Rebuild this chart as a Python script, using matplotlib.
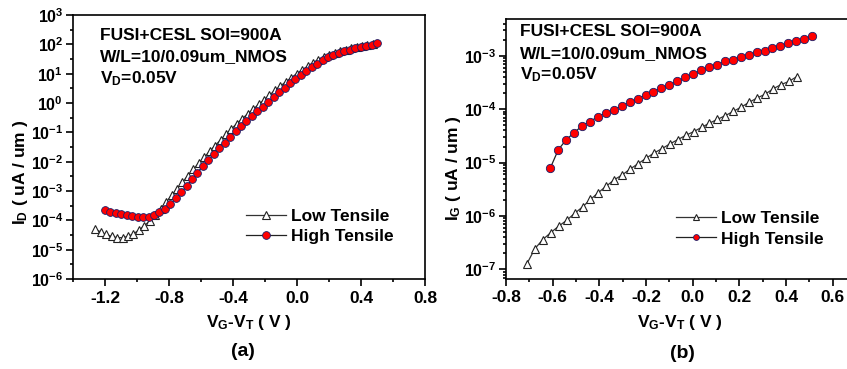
import numpy as np
import matplotlib.pyplot as plt
from matplotlib.ticker import FixedLocator, MultipleLocator, FuncFormatter, LogLocator, NullFormatter

plt.rcParams['font.family'] = 'Liberation Sans'
plt.rcParams['font.weight'] = 'bold'
plt.rcParams['axes.labelweight'] = 'bold'
plt.rcParams['mathtext.fontset'] = 'custom'
plt.rcParams['mathtext.rm'] = 'Liberation Sans:bold'
plt.rcParams['mathtext.bf'] = 'Liberation Sans:bold'
plt.rcParams['mathtext.it'] = 'Liberation Sans:bold'
plt.rcParams['axes.unicode_minus'] = False

# (a) drain current, log10(uA/um)
vg_a_high = [-1.200, -1.166, -1.132, -1.098, -1.064, -1.030, -0.996, -0.962, -0.928, -0.894,
             -0.860, -0.826, -0.792, -0.758, -0.724, -0.690, -0.656, -0.622, -0.588, -0.554,
             -0.520, -0.486, -0.452, -0.418, -0.384, -0.350, -0.316, -0.282, -0.248, -0.214,
             -0.180, -0.146, -0.112, -0.078, -0.044, -0.010, 0.024, 0.058, 0.092, 0.126,
             0.160, 0.194, 0.228, 0.262, 0.296, 0.330, 0.364, 0.398, 0.432, 0.466, 0.500]
logid_high = [-3.66, -3.71, -3.75, -3.79, -3.83, -3.86, -3.88, -3.89, -3.87, -3.82,
              -3.72, -3.60, -3.45, -3.25, -3.05, -2.83, -2.60, -2.37, -2.15, -1.94,
              -1.74, -1.54, -1.35, -1.15, -0.96, -0.78, -0.60, -0.44, -0.28, -0.12,
              0.04, 0.20, 0.36, 0.52, 0.67, 0.81, 0.95, 1.09, 1.22, 1.34,
              1.46, 1.56, 1.64, 1.71, 1.77, 1.82, 1.87, 1.91, 1.95, 1.99, 2.03]

vg_a_low = [-1.260, -1.226, -1.192, -1.158, -1.124, -1.090, -1.056, -1.022, -0.988, -0.954,
            -0.920, -0.886, -0.852, -0.818, -0.784, -0.750, -0.716, -0.682, -0.648, -0.614,
            -0.580, -0.546, -0.512, -0.478, -0.444, -0.410, -0.376, -0.342, -0.308, -0.274,
            -0.240, -0.206, -0.172, -0.138, -0.104, -0.070, -0.036, -0.002, 0.032, 0.066,
            0.100, 0.134, 0.168, 0.202, 0.236, 0.270, 0.304, 0.338, 0.372, 0.406, 0.440, 0.474]
logid_low = [-4.30, -4.40, -4.48, -4.55, -4.59, -4.59, -4.55, -4.46, -4.33, -4.18,
             -4.02, -3.83, -3.60, -3.38, -3.15, -2.93, -2.70, -2.48, -2.26, -2.05,
             -1.85, -1.65, -1.45, -1.26, -1.07, -0.88, -0.70, -0.53, -0.37, -0.21,
             -0.05, 0.11, 0.27, 0.43, 0.58, 0.72, 0.86, 1.00, 1.13, 1.25,
             1.37, 1.48, 1.57, 1.65, 1.72, 1.77, 1.82, 1.86, 1.90, 1.93, 1.97, 2.01]

# (b) gate current, log10(uA/um)
vg_b_high = [-0.610, -0.576, -0.542, -0.508, -0.474, -0.440, -0.406, -0.372, -0.338, -0.304,
             -0.270, -0.236, -0.202, -0.168, -0.134, -0.100, -0.066, -0.032, 0.002, 0.036,
             0.070, 0.104, 0.138, 0.172, 0.206, 0.240, 0.274, 0.308, 0.342, 0.376,
             0.410, 0.444, 0.478, 0.512]
logig_high = [-5.10, -4.76, -4.57, -4.44, -4.31, -4.23, -4.14, -4.07, -4.01, -3.94,
              -3.87, -3.81, -3.73, -3.67, -3.60, -3.54, -3.48, -3.40, -3.34, -3.27,
              -3.21, -3.17, -3.10, -3.07, -3.02, -2.98, -2.93, -2.90, -2.85, -2.81,
              -2.76, -2.73, -2.69, -2.62]

vg_b_low = [-0.710, -0.676, -0.642, -0.608, -0.574, -0.540, -0.506, -0.472, -0.438, -0.404,
            -0.370, -0.336, -0.302, -0.268, -0.234, -0.200, -0.166, -0.132, -0.098, -0.064,
            -0.030, 0.004, 0.038, 0.072, 0.106, 0.140, 0.174, 0.208, 0.242, 0.276,
            0.310, 0.344, 0.378, 0.412, 0.446]
logig_low = [-6.89, -6.61, -6.44, -6.31, -6.19, -6.08, -5.95, -5.83, -5.69, -5.56,
             -5.44, -5.32, -5.23, -5.12, -5.02, -4.92, -4.82, -4.74, -4.65, -4.57,
             -4.49, -4.42, -4.34, -4.26, -4.19, -4.12, -4.04, -3.96, -3.87, -3.79,
             -3.72, -3.62, -3.54, -3.48, -3.39]

labels = ['Low Tensile', 'High Tensile']
notes = ['FUSI+CESL SOI=900A', 'W/L=10/0.09um_NMOS', r'$\mathbf{V_D}$=0.05V']

W, H = 847, 369
fig = plt.figure(figsize=(W / 100, H / 100), dpi=100)


def px_axes(left, top, right, bottom):
    return fig.add_axes([left / W, 1 - bottom / H, (right - left) / W, (bottom - top) / H])


def decade_fmt(v, pos):
    return r'$\mathbf{10^{%d}}$' % int(round(np.log10(v)))


def style(ax):
    for s in ax.spines.values():
        s.set_linewidth(1.2)
    ax.tick_params(which='both', direction='out', top=False, right=False, width=1.2)
    ax.tick_params(axis='x', labelsize=12.5)
    ax.tick_params(axis='y', labelsize=11.5, pad=2)
    ax.tick_params(which='major', length=5)
    ax.tick_params(which='minor', length=2.5)
    ax.yaxis.set_major_formatter(FuncFormatter(decade_fmt))
    ax.yaxis.set_minor_formatter(NullFormatter())


def draw(ax, xl, yl, xh, yh, ms):
    ax.plot(xl, 10 ** np.array(yl), '-', color='#333333', lw=0.9, marker='^', ms=ms,
            mfc='white', mec='#222222', mew=0.8, label=labels[0])
    ax.plot(xh, 10 ** np.array(yh), '-', color='#222222', lw=0.9, marker='o', ms=ms,
            mfc='#ff0000', mec='#1a1f6a', mew=0.6, label=labels[1])


def px_label_coords(x, y, left, top, right, bottom):
    return (x - left) / (right - left), (bottom - y) / (bottom - top)


# ---- (a) ----
box_a = (73, 15, 425, 279)
ax1 = px_axes(*box_a)
draw(ax1, vg_a_low, logid_low, vg_a_high, logid_high, 5.6)
ax1.set_yscale('log')
ax1.set_xlim(-1.4, 0.8)
ax1.set_ylim(1e-6, 1e3)
ax1.yaxis.set_major_locator(FixedLocator([10.0 ** k for k in range(-6, 4)]))
ax1.yaxis.set_minor_locator(FixedLocator([10.0 ** (k + 0.5) for k in range(-6, 3)]))
ax1.xaxis.set_major_locator(FixedLocator([-1.2, -0.8, -0.4, 0.0, 0.4, 0.8]))
ax1.xaxis.set_major_formatter(FuncFormatter(lambda v, p: '%.1f' % v))
ax1.xaxis.set_minor_locator(MultipleLocator(0.2))
style(ax1)
ax1.set_xlabel(r'$\mathbf{V_G}$-$\mathbf{V_T}$ ( V )', fontsize=12.5)
ax1.set_ylabel(r'$\mathbf{I_D}$ ( uA / um )', fontsize=12.5)
ax1.xaxis.set_label_coords(*px_label_coords(249, 322, *box_a))
ax1.yaxis.set_label_coords(*px_label_coords(20, 172, *box_a))
ax1.xaxis.label.set_va('center')
ax1.yaxis.label.set_va('center')
for i, t in enumerate(notes):
    fig.text(100 / W, 1 - (35 + 22 * i) / H, t, fontsize=12.5, va='center', ha='left')
ax1.legend(loc='upper left', bbox_to_anchor=(246 / W, 1 - 209 / H), bbox_transform=fig.transFigure,
           frameon=False, fontsize=12.5, handlelength=2.3, handletextpad=0.3,
           labelspacing=0.25, borderpad=0, borderaxespad=0)
fig.text(243 / W, 1 - 352 / H, '(a)', fontsize=14, ha='center', va='center')

# ---- (b) ----
box_b = (506, 19, 856, 278.5)
ax2 = px_axes(*box_b)
draw(ax2, vg_b_low, logig_low, vg_b_high, logig_high, 6.0)
ax2.set_yscale('log')
ax2.set_xlim(-0.8, 0.7)
ax2.set_ylim(10 ** -7.17, 10 ** -2.31)
ax2.yaxis.set_major_locator(FixedLocator([10.0 ** k for k in range(-7, -2)]))
ax2.yaxis.set_minor_locator(LogLocator(base=10, subs=np.arange(2, 10), numticks=20))
ax2.xaxis.set_major_locator(FixedLocator([-0.8, -0.6, -0.4, -0.2, 0.0, 0.2, 0.4, 0.6]))
ax2.xaxis.set_major_formatter(FuncFormatter(lambda v, p: '%.1f' % v))
ax2.xaxis.set_minor_locator(MultipleLocator(0.1))
style(ax2)
ax2.set_xlabel(r'$\mathbf{V_G}$-$\mathbf{V_T}$ ( V )', fontsize=12.5)
ax2.set_ylabel(r'$\mathbf{I_G}$ ( uA / um )', fontsize=12.5)
ax2.xaxis.set_label_coords(*px_label_coords(680, 322, *box_b))
ax2.yaxis.set_label_coords(*px_label_coords(453, 168, *box_b))
ax2.xaxis.label.set_va('center')
ax2.yaxis.label.set_va('center')
for i, t in enumerate(notes):
    fig.text(520 / W, 1 - (32 + 21.5 * i) / H, t, fontsize=12.5, va='center', ha='left')
ax2.legend(loc='upper left', bbox_to_anchor=(676 / W, 1 - 211 / H), bbox_transform=fig.transFigure,
           frameon=False, fontsize=12.5, handlelength=2.3, handletextpad=0.3,
           labelspacing=0.3, borderpad=0, borderaxespad=0, markerscale=0.7)
fig.text(682 / W, 1 - 353 / H, '(b)', fontsize=14, ha='center', va='center')

fig.savefig('out.png', dpi=100)
